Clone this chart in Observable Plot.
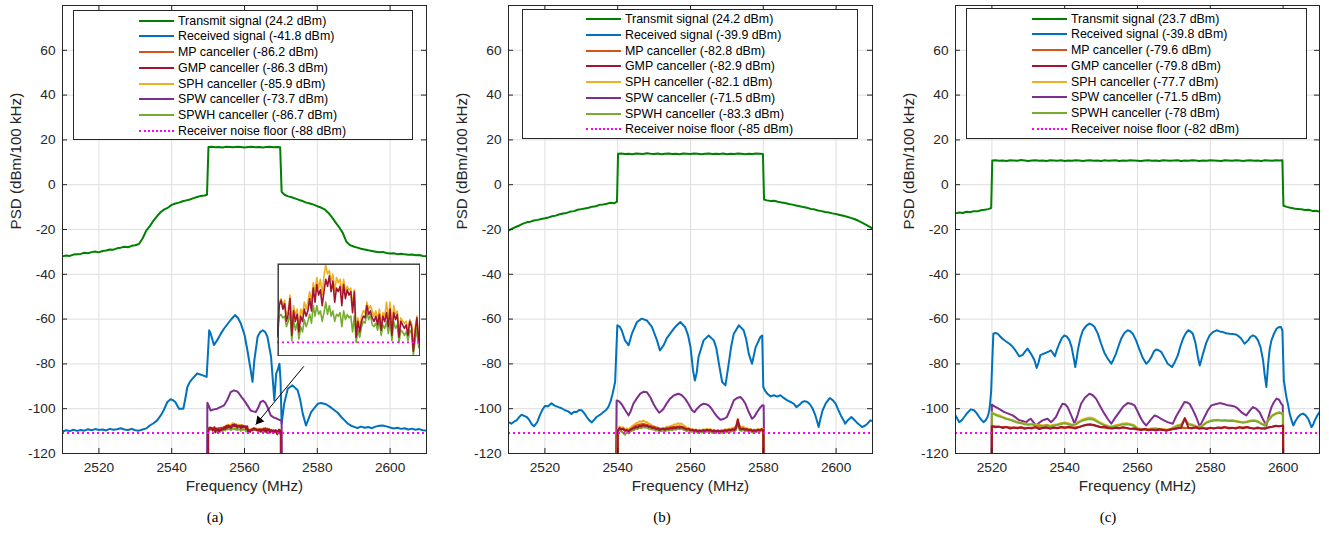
<!DOCTYPE html>
<html><head><meta charset="utf-8">
<script src="https://cdn.jsdelivr.net/npm/d3@7"></script>
<script src="https://cdn.jsdelivr.net/npm/@observablehq/plot@0.6"></script>
<style>
body{margin:0;background:#fff;}
#fig{position:relative;width:1329px;height:533px;overflow:hidden;font-family:"Liberation Sans",Arial,sans-serif;}
.legend{position:absolute;background:#fff;border:1px solid #262626;box-sizing:border-box;}
.sw{position:absolute;height:0;}
.lt{position:absolute;height:16px;line-height:16px;font-size:12.4px;color:#000;white-space:nowrap;}
.cap{position:absolute;width:60px;text-align:center;font-family:"Liberation Serif","Times New Roman",serif;font-size:15px;color:#000;}
</style></head><body><div id="fig"></div>
<script>
// ---------- axes / labels ----------
const xTicks = [2520, 2540, 2560, 2580, 2600];
const yTicks = [-120, -100, -80, -60, -40, -20, 0, 20, 40, 60];
const xDomain = [2510, 2610];
const yDomain = [-120, 80];
const seriesNames = ["Transmit signal", "Received signal", "MP canceller", "GMP canceller", "SPH canceller", "SPW canceller", "SPWH canceller", "Receiver noise floor"];
const powerA = [24.2, -41.8, -86.2, -86.3, -85.9, -73.7, -86.7, -88];
const powerB = [24.2, -39.9, -82.8, -82.9, -82.1, -71.5, -83.3, -85];
const powerC = [23.7, -39.8, -79.6, -79.8, -77.7, -71.5, -78, -82];
const noiseFloor = -110.8;
const captions = ["(a)", "(b)", "(c)"];
const xLabel = "Frequency (MHz)";
const yLabel = "PSD (dBm/100 kHz)";

// ---------- panel (a) ----------
const txA_left = [-32.0,-31.6,-31.8,-31.2,-31.0,-30.9,-30.4,-30.6,-30.1,-29.8,-30.2,-29.6,-29.4,-28.9,-29.0,-28.4,-28.1,-27.7,-27.9,-27.3,-27.0,-26.5,-24.0,-20.5,-18.5,-16.0,-14.0,-12.2,-11.0,-10.2,-9.0,-8.4,-8.0,-7.4,-7.0,-6.6,-6.0,-5.5,-5.0,-4.8];
const txA_top = [16.9,16.7,16.8,16.6,16.9,16.8,16.7,16.9,16.8,16.6,16.8,16.9,16.7,16.8,16.6,16.8,16.9,16.7,16.8];
const txA_right = [-4.5,-5.2,-5.6,-6.2,-6.8,-7.3,-8.0,-8.4,-8.9,-9.6,-10.2,-11.0,-12.5,-14.5,-16.8,-19.0,-21.5,-25.5,-27.0,-27.6,-28.1,-28.6,-28.9,-29.3,-29.6,-29.9,-30.2,-30.0,-30.5,-30.7,-30.6,-31.0,-30.8,-31.1,-31.3,-31.2,-31.5,-31.4,-31.8,-32.0];
const rxA = [[2510,-110.2],[2511,-109.6],[2512,-110.0],[2513,-109.4],[2514,-109.9],[2515,-109.5],[2516,-109.8],[2517,-109.2],[2518,-109.6],[2519,-109.1],[2520,-109.5],[2521,-109.3],[2522,-109.7],[2523,-109.0],[2524,-109.4],[2525,-109.2],[2526,-108.7],[2527,-109.3],[2528,-109.5],[2529,-109.0],[2530,-109.6],[2531,-109.8],[2532,-109.3],[2533,-108.8],[2534,-107.5],[2535,-106.5],[2536,-105.2],[2537,-103.0],[2537.8,-100.7],[2538.8,-97.0],[2539.7,-95.8],[2540.3,-96.2],[2541,-97.0],[2542,-100.0],[2543.2,-100.0],[2543.8,-95.0],[2544.3,-90.3],[2545,-88.0],[2545.7,-86.6],[2547,-84.3],[2548.4,-85.0],[2549.6,-85.8],[2550,-74.0],[2550.3,-65.0],[2550.7,-66.4],[2551.6,-71.6],[2552.5,-69.4],[2553.5,-66.5],[2554.4,-64.2],[2555.3,-62.3],[2556.2,-60.4],[2557.4,-58.2],[2558.2,-59.5],[2559,-62.0],[2560,-67.0],[2560.8,-73.9],[2561.7,-82.8],[2562.2,-88.0],[2562.7,-78.4],[2563.6,-67.9],[2564.3,-65.8],[2565,-65.0],[2565.7,-65.8],[2566.3,-67.9],[2567.3,-76.9],[2568.2,-96.3],[2568.7,-84.3],[2569.1,-82.8],[2569.6,-79.9],[2569.9,-87.3],[2570.2,-106.7],[2570.9,-97.8],[2571.9,-91.0],[2573.2,-89.6],[2574.6,-91.8],[2575.3,-96.0],[2576,-102.2],[2576.9,-107.5],[2578.3,-101.5],[2580.1,-97.8],[2581,-97.5],[2582.4,-98.0],[2583.5,-99.2],[2584.7,-100.7],[2585.6,-101.8],[2586.6,-103.7],[2587.5,-105.2],[2588.4,-106.7],[2589.3,-107.6],[2590.3,-108.2],[2591,-108.6],[2592,-108.0],[2593,-108.5],[2594,-108.2],[2595,-108.7],[2596,-108.0],[2597,-107.6],[2598,-107.5],[2599,-107.9],[2600,-108.4],[2601,-108.8],[2602,-108.5],[2603,-109.0],[2604,-108.7],[2605,-109.3],[2606,-108.9],[2607,-109.4],[2608,-109.1],[2609,-109.6],[2610,-109.7]];
const spwA = [[2549.7,-130],[2549.8,-97.3],[2550.7,-100.8],[2551.6,-100.3],[2552.5,-100.0],[2553.5,-99.2],[2554.4,-98.5],[2555.3,-96.0],[2556.2,-92.6],[2557.1,-91.8],[2558,-92.3],[2558.5,-93.2],[2559.2,-94.8],[2559.9,-96.3],[2560.8,-98.5],[2561.7,-100.8],[2562.4,-101.2],[2563.1,-101.5],[2563.8,-99.5],[2564.4,-97.0],[2565.1,-96.5],[2565.8,-97.5],[2566.5,-100.0],[2567.2,-103.0],[2568.1,-104.0],[2569,-104.5],[2569.9,-105.2],[2570.2,-105.0],[2570.3,-130]];
// cancellers (a): 2550..2570 MHz every 0.25 MHz
const gmpA = [-110.4,-108.7,-108.4,-108.9,-108.6,-109.6,-109.2,-108.3,-110.4,-109.0,-109.6,-109.2,-110.2,-109.3,-109.6,-108.9,-109.3,-109.0,-108.3,-109.0,-107.7,-108.5,-107.5,-108.1,-107.8,-108.7,-107.9,-107.2,-107.6,-107.0,-107.9,-107.3,-108.5,-107.7,-107.9,-107.6,-108.7,-107.5,-108.3,-107.8,-108.1,-107.9,-109.1,-107.9,-110.5,-109.6,-110.2,-109.6,-109.3,-109.4,-108.7,-109.2,-109.0,-109.4,-109.6,-109.3,-109.8,-109.2,-110.1,-109.3,-109.6,-109.1,-109.9,-108.9,-110.4,-109.1,-109.5,-109.2,-110.5,-109.6,-109.8,-110.0,-109.8,-110.4,-109.6,-109.9,-111.3,-110.2,-109.4,-110.8,-109.7];
const sphA = [-110.1,-108.5,-108.3,-108.7,-108.4,-109.3,-109.0,-108.1,-110.1,-108.7,-109.3,-108.9,-109.9,-108.9,-109.2,-108.5,-108.9,-108.5,-107.9,-108.5,-107.4,-107.9,-107.1,-107.7,-107.2,-108.1,-107.0,-106.4,-106.9,-106.7,-107.3,-106.9,-107.9,-107.1,-107.4,-107.2,-108.0,-107.2,-107.9,-107.6,-107.8,-107.7,-108.7,-107.8,-110.3,-109.4,-110.0,-109.3,-109.0,-109.1,-108.5,-108.9,-108.7,-109.0,-109.3,-109.0,-109.5,-108.9,-109.8,-109.1,-109.3,-108.5,-109.5,-108.5,-110.0,-108.7,-109.2,-109.0,-110.3,-109.4,-109.6,-109.7,-109.6,-110.1,-109.5,-109.7,-111.1,-110.0,-109.3,-110.6,-109.6];
const spwhA = [-110.5,-109.3,-109.2,-109.4,-109.3,-109.9,-109.6,-109.1,-110.7,-109.5,-110.1,-109.7,-110.6,-109.9,-110.2,-109.5,-109.9,-109.6,-109.2,-109.7,-108.7,-109.3,-108.7,-109.2,-109.0,-109.6,-109.1,-108.5,-109.2,-108.7,-109.3,-109.0,-109.6,-109.2,-109.3,-109.1,-109.9,-109.0,-109.5,-109.2,-109.4,-109.3,-110.2,-109.3,-110.8,-110.1,-110.5,-109.9,-109.6,-109.7,-109.1,-109.5,-109.2,-109.8,-109.9,-109.7,-110.1,-109.6,-110.4,-109.8,-110.0,-109.6,-110.3,-109.6,-110.7,-109.6,-110.0,-109.8,-110.8,-110.1,-110.2,-110.4,-110.2,-110.7,-110.1,-110.3,-111.5,-110.7,-110.0,-111.1,-110.2];
const mpA = [-109.2,-108.8,-109.2,-108.6,-108.4,-108.0,-107.9,-107.6,-107.9,-108.2,-108.3,-109.3,-109.4,-109.2,-109.5,-109.3,-109.6,-109.5,-109.8,-109.9,-109.7];
const arrowA = [{x1: 2576.3, y1: -81.1, x2: 2563.1, y2: -107.1}];
const insetX = [2550, 2570];
const insetY = [-111.6, -106.3];

// ---------- panel (b) ----------
const txB_left = [-20.5,-19.6,-18.9,-18.2,-17.4,-16.8,-16.5,-16.0,-15.7,-15.3,-15.0,-14.6,-14.1,-13.8,-13.2,-12.9,-12.6,-12.0,-11.8,-11.2,-10.9,-10.6,-10.3,-9.8,-9.6,-9.0,-8.8,-8.5,-8.1,-8.3];
const txB_top = [13.9,13.7,13.8,13.6,13.9,13.8,13.7,14.0,13.8,13.7,13.9,13.6,13.8,13.9,13.7,13.8,13.6,13.9,13.8,13.7,13.9,13.8,13.6,13.8,13.9,13.7,13.8,13.7,13.9,13.6,13.8,13.7,13.9,13.8,13.6,13.8,13.7,13.9,13.8];
const txB_right = [-7.0,-7.3,-7.2,-7.6,-7.9,-8.2,-8.6,-8.9,-9.3,-9.6,-10.0,-10.3,-10.8,-11.0,-11.5,-11.8,-12.2,-12.4,-12.8,-13.1,-13.5,-13.9,-14.3,-14.8,-15.3,-16.0,-16.8,-17.7,-18.6,-19.6];
const rxB = [[2510,-106.0],[2510.8,-106.7],[2511.5,-105.8],[2512.2,-105.2],[2513,-103.6],[2513.6,-102.7],[2514.3,-103.2],[2515,-103.7],[2515.7,-105.0],[2516.3,-106.7],[2517,-107.9],[2517.9,-106.0],[2518.6,-103.0],[2519.3,-100.5],[2520,-98.8],[2520.9,-98.9],[2521.8,-97.6],[2522.7,-98.6],[2523.7,-99.3],[2524.6,-99.8],[2525.5,-100.7],[2526.4,-101.2],[2527.3,-102.4],[2528,-101.4],[2528.7,-101.5],[2529.4,-100.6],[2530.1,-100.7],[2530.8,-102.0],[2531.5,-103.7],[2532.2,-105.2],[2532.9,-106.1],[2533.5,-105.0],[2534.2,-103.7],[2535.1,-102.8],[2536.1,-101.5],[2536.8,-100.6],[2537.4,-99.3],[2538,-97.0],[2538.6,-93.3],[2539.3,-88.0],[2539.6,-75.0],[2539.9,-62.8],[2540.6,-63.5],[2541.1,-65.0],[2542,-69.5],[2543,-71.7],[2543.9,-66.5],[2545.3,-61.3],[2546.6,-59.8],[2548,-60.6],[2549.4,-63.5],[2550.8,-69.5],[2551.6,-74.0],[2552.6,-71.7],[2553.5,-68.5],[2554.4,-66.5],[2555.8,-63.5],[2557.2,-61.3],[2558.5,-63.5],[2559.3,-67.0],[2560,-72.5],[2560.7,-82.9],[2561.2,-87.4],[2561.7,-84.0],[2562.2,-76.9],[2563.6,-69.5],[2565,-67.3],[2566.4,-69.5],[2567.1,-73.0],[2567.8,-79.9],[2568.7,-88.1],[2569.6,-89.6],[2570.5,-79.9],[2571.2,-72.0],[2571.9,-66.5],[2573.3,-62.8],[2574.6,-65.0],[2575.3,-69.0],[2576,-75.4],[2576.9,-79.9],[2577.9,-72.5],[2579.2,-68.0],[2579.7,-67.3],[2580,-90.3],[2580.5,-92.0],[2581.1,-93.3],[2582,-94.5],[2582.9,-94.0],[2583.8,-94.6],[2584.7,-94.0],[2585.6,-95.2],[2586.6,-96.3],[2587.5,-97.0],[2588.4,-97.8],[2589.1,-99.3],[2590,-98.2],[2590.7,-97.0],[2591.4,-96.6],[2592.1,-97.0],[2592.8,-98.0],[2593.5,-99.8],[2594.2,-102.5],[2594.8,-105.7],[2595.2,-108.2],[2595.7,-104.5],[2596.3,-100.7],[2597.2,-97.5],[2598.3,-95.2],[2599.2,-96.4],[2599.9,-97.8],[2600.6,-100.5],[2601.3,-103.0],[2602,-105.0],[2602.5,-106.7],[2603.3,-105.0],[2604.2,-103.7],[2604.9,-104.8],[2605.6,-106.0],[2606.3,-107.0],[2607.1,-108.2],[2607.9,-107.6],[2608.6,-106.7],[2609.4,-105.2],[2610,-105.6]];
const spwB = [[2539.5,-130],[2539.7,-96.3],[2540.3,-96.6],[2541.1,-98.0],[2542,-100.5],[2543,-103.0],[2543.6,-101.0],[2544.3,-97.8],[2545.2,-95.5],[2546.2,-93.3],[2547.2,-92.4],[2548,-92.6],[2549,-95.0],[2549.8,-97.8],[2550.6,-100.0],[2551.4,-101.8],[2552,-101.0],[2552.6,-100.0],[2553.5,-97.5],[2554.4,-95.5],[2555.5,-94.0],[2556.7,-93.3],[2557.6,-94.0],[2558.5,-95.5],[2559.5,-98.0],[2560.4,-100.7],[2561.1,-101.5],[2561.8,-100.0],[2562.7,-98.5],[2563.6,-97.8],[2564.3,-98.0],[2565,-98.5],[2565.7,-99.8],[2566.4,-101.5],[2567.3,-103.5],[2568.2,-104.9],[2569.1,-104.6],[2570,-103.7],[2571,-100.0],[2571.9,-96.3],[2572.8,-95.2],[2573.7,-94.8],[2574.4,-96.0],[2575.1,-97.8],[2576,-101.5],[2576.9,-104.5],[2577.6,-103.5],[2578.3,-101.5],[2579,-99.8],[2579.7,-98.5],[2580.1,-98.6],[2580.3,-130]];
// cancellers (b): 2540..2580 MHz every 0.5 MHz
const gmpB = [-109.8,-108.6,-109.3,-108.9,-109.9,-109.5,-110.1,-109.4,-109.0,-108.7,-108.1,-108.4,-107.6,-107.9,-107.3,-107.7,-107.5,-108.2,-108.0,-108.6,-108.4,-109.1,-108.8,-109.5,-109.2,-109.0,-109.4,-108.8,-109.1,-108.6,-108.9,-108.4,-108.7,-108.2,-108.5,-108.1,-108.6,-108.9,-109.3,-109.0,-109.6,-109.4,-109.9,-109.5,-110.1,-109.7,-110.0,-109.6,-109.9,-109.4,-109.8,-109.5,-110.1,-109.7,-110.2,-109.8,-110.3,-109.9,-110.1,-109.6,-109.9,-109.4,-109.7,-109.2,-109.5,-108.6,-104.8,-108.9,-109.2,-108.8,-109.4,-109.1,-109.7,-109.3,-110.0,-109.6,-109.9,-109.4,-109.7,-109.2,-109.5];
const sphB = [-109.2,-108.0,-108.6,-108.3,-109.2,-108.8,-109.4,-108.5,-107.8,-107.2,-106.6,-106.2,-105.6,-105.9,-105.3,-105.8,-105.9,-106.7,-106.9,-107.6,-107.8,-108.5,-108.4,-109.0,-108.8,-108.5,-108.7,-108.0,-108.2,-107.6,-107.7,-107.0,-107.1,-106.5,-106.8,-106.6,-107.3,-107.9,-108.5,-108.5,-109.2,-109.0,-109.6,-109.2,-109.8,-109.4,-109.7,-109.2,-109.5,-109.0,-109.4,-109.1,-109.7,-109.4,-109.9,-109.5,-109.9,-109.5,-109.7,-109.2,-109.5,-108.9,-109.1,-108.5,-108.6,-107.8,-104.6,-108.0,-108.3,-108.0,-108.7,-108.6,-109.2,-109.0,-109.7,-109.3,-109.6,-109.0,-109.3,-108.9,-109.1];
const spwhB = [-110.4,-109.4,-110.2,-110.8,-111.6,-110.6,-111.0,-110.2,-109.7,-109.5,-108.9,-109.1,-108.4,-108.7,-108.1,-108.5,-108.3,-108.9,-108.8,-109.3,-109.2,-109.8,-109.6,-110.2,-110.0,-109.8,-110.1,-109.5,-109.8,-109.3,-109.6,-109.1,-109.4,-108.9,-109.2,-108.8,-109.3,-109.6,-110.0,-109.7,-110.3,-110.1,-110.6,-110.2,-110.8,-110.4,-110.7,-110.3,-110.6,-110.1,-110.5,-110.2,-110.8,-110.4,-110.9,-110.5,-111.0,-110.6,-110.8,-110.3,-110.6,-110.1,-110.4,-109.9,-110.2,-109.5,-106.0,-109.6,-109.9,-109.5,-110.1,-109.8,-110.4,-110.0,-110.7,-110.3,-110.6,-110.1,-110.4,-109.9,-110.2];
// MP (b): 2540..2580 every 1 MHz
const mpB = [-109.5,-109.0,-109.6,-109.8,-108.6,-107.6,-107.0,-106.8,-107.2,-107.8,-108.2,-108.6,-109.0,-108.9,-108.6,-108.2,-108.0,-107.8,-108.3,-109.0,-109.4,-109.6,-109.9,-109.8,-109.6,-109.5,-109.9,-110.0,-110.1,-109.8,-109.6,-109.4,-109.2,-106.5,-109.0,-109.2,-109.5,-109.8,-109.7,-109.5,-109.3];

// ---------- panel (c) ----------
const txC_left = [-12.8,-12.4,-12.6,-12.1,-12.3,-11.8,-11.9,-11.4,-11.2,-10.9];
const txC_top = [10.9,10.7,10.8,10.6,10.9,10.8,10.7,11.0,10.8,10.6,10.8,10.9,10.7,10.8,10.6,10.9,10.8,10.7,10.9,10.6,10.8,10.7,10.9,10.8,10.6,10.8,10.9,10.7,10.8,10.6,10.9,10.7,10.8,10.9,10.6,10.8,10.7,10.9,10.8,10.7,10.6,10.8,10.9,10.7,10.8,10.6,10.9,10.8,10.7,10.8,10.9,10.6,10.8,10.7,10.9,10.8,10.6,10.8,10.7,10.9,10.8,10.7,10.6,10.9,10.8,10.7,10.9,10.8,10.6,10.8,10.9,10.7,10.8,10.6,10.9,10.8,10.7,10.9,10.8];
const txC_right = [-9.9,-10.3,-10.6,-10.8,-11.0,-11.3,-11.2,-11.7,-11.6,-12.0];
const rxC = [[2510,-103.0],[2510.5,-104.5],[2511,-106.0],[2511.7,-105.2],[2512.4,-103.7],[2513.3,-101.8],[2514.2,-100.3],[2515.1,-100.7],[2515.8,-102.0],[2516.5,-103.7],[2517.1,-105.0],[2517.7,-106.0],[2518.3,-105.2],[2518.8,-103.7],[2519.2,-101.5],[2519.5,-97.8],[2519.8,-92.0],[2520,-82.9],[2520.4,-66.5],[2521,-66.2],[2521.6,-66.5],[2522.3,-67.8],[2522.9,-68.8],[2523.9,-70.0],[2524.8,-71.0],[2525.5,-72.0],[2526.1,-73.2],[2526.8,-74.8],[2527.5,-76.6],[2528.4,-76.1],[2529.1,-74.5],[2529.8,-73.2],[2530.7,-75.4],[2531.2,-76.8],[2531.7,-78.4],[2532.3,-81.8],[2532.8,-79.5],[2533.3,-76.1],[2534.1,-75.5],[2534.9,-75.0],[2535.6,-74.5],[2536.2,-73.9],[2536.8,-75.3],[2537.3,-76.6],[2537.9,-73.5],[2538.5,-71.0],[2539.2,-68.5],[2539.9,-67.3],[2540.6,-67.8],[2541.3,-69.5],[2541.9,-72.5],[2542.5,-77.6],[2542.9,-81.4],[2543.3,-77.5],[2543.6,-73.9],[2544.3,-68.5],[2545,-65.0],[2545.9,-63.0],[2546.8,-62.0],[2547.5,-62.5],[2548.2,-63.5],[2549.1,-66.5],[2550,-71.0],[2550.9,-75.0],[2551.8,-77.6],[2552.8,-79.9],[2553.4,-78.0],[2554.1,-75.4],[2554.8,-72.0],[2555.5,-68.8],[2556.4,-66.2],[2557.3,-65.0],[2558,-65.4],[2558.7,-66.5],[2559.6,-69.5],[2560.6,-73.9],[2561.5,-77.5],[2562.4,-79.9],[2563.1,-78.8],[2563.8,-76.9],[2564.5,-74.5],[2565.1,-73.6],[2565.8,-73.9],[2566.5,-74.6],[2567.4,-77.2],[2568.3,-79.9],[2569.5,-81.4],[2570.3,-79.0],[2571.1,-76.1],[2571.8,-72.0],[2572.5,-68.8],[2573.2,-66.5],[2573.9,-65.0],[2574.5,-65.4],[2575.2,-66.5],[2575.9,-70.5],[2576.6,-76.9],[2577.1,-80.7],[2577.5,-78.5],[2578,-75.4],[2578.9,-70.5],[2579.8,-67.3],[2580.7,-65.8],[2581.7,-65.0],[2582.6,-65.5],[2583.5,-65.8],[2584.4,-66.3],[2585.3,-66.5],[2586.2,-66.6],[2587.2,-67.0],[2587.9,-67.8],[2588.5,-68.8],[2589.4,-71.0],[2590.4,-69.5],[2591,-68.0],[2591.7,-67.3],[2592.4,-67.8],[2593.1,-69.5],[2593.8,-72.5],[2594.5,-78.4],[2594.9,-84.3],[2595.4,-90.3],[2595.9,-79.9],[2596.3,-73.5],[2596.8,-69.5],[2597.5,-66.5],[2598.2,-64.3],[2598.8,-63.6],[2599.4,-63.5],[2599.8,-65.0],[2600.2,-87.4],[2600.9,-94.8],[2601.4,-98.5],[2601.8,-102.2],[2602.3,-105.0],[2602.8,-107.5],[2603.4,-105.5],[2604.1,-103.7],[2604.8,-102.6],[2605.5,-102.2],[2606.2,-103.0],[2606.9,-104.5],[2607.4,-106.5],[2607.8,-108.2],[2608.3,-107.0],[2608.7,-105.2],[2609.4,-103.0],[2610,-101.5]];
const spwC = [[2519.8,-130],[2520,-98.2],[2520.5,-98.8],[2521.1,-99.3],[2522.2,-100.3],[2523.4,-101.5],[2524.5,-102.2],[2525.7,-103.0],[2526.6,-104.0],[2527.5,-105.2],[2528.4,-105.5],[2529.4,-106.0],[2530.1,-105.0],[2530.7,-104.5],[2531.4,-106.0],[2532.1,-107.5],[2533,-106.3],[2533.9,-105.2],[2534.6,-104.8],[2535.3,-104.5],[2536.2,-106.0],[2536.9,-105.0],[2537.6,-103.7],[2538.5,-100.5],[2539.4,-97.8],[2540.1,-98.0],[2540.8,-99.3],[2541.8,-103.0],[2542.7,-106.7],[2543.6,-102.5],[2544.5,-97.8],[2545.6,-95.0],[2546.8,-93.3],[2547.7,-94.0],[2548.6,-95.5],[2549.7,-98.8],[2550.9,-102.2],[2551.8,-104.5],[2552.8,-106.7],[2553.9,-104.0],[2555,-101.5],[2556.1,-99.0],[2557.3,-97.5],[2558.2,-97.8],[2559.2,-98.5],[2560.1,-101.5],[2561,-104.5],[2561.7,-106.3],[2562.4,-107.5],[2563.5,-105.2],[2564.7,-103.0],[2565.6,-103.6],[2566.5,-104.5],[2567.4,-105.3],[2568.3,-106.0],[2569,-106.4],[2569.7,-106.7],[2570.6,-103.5],[2571.6,-100.7],[2572.9,-97.0],[2573.6,-97.2],[2574.3,-97.8],[2575.2,-100.5],[2576.1,-103.7],[2577.1,-107.9],[2577.7,-106.0],[2578.4,-103.7],[2579.3,-100.8],[2580.3,-98.5],[2581.4,-98.0],[2582.6,-97.5],[2583.7,-97.9],[2584.9,-98.5],[2585.8,-98.7],[2586.7,-99.0],[2587.6,-100.0],[2588.5,-101.5],[2589.2,-102.3],[2589.9,-103.0],[2590.8,-101.0],[2591.7,-99.3],[2592.6,-100.0],[2593.5,-101.5],[2594.4,-104.5],[2595.4,-107.5],[2596.1,-103.0],[2596.8,-99.3],[2597.5,-97.0],[2598.2,-95.5],[2598.9,-96.0],[2599.5,-97.8],[2599.9,-98.5],[2600.1,-130]];
// cancellers (c): 2520..2600 MHz every 1 MHz
const gmpC = [-107.8,-108.3,-108.0,-108.6,-108.2,-108.9,-108.4,-108.7,-108.3,-109.0,-108.5,-108.8,-108.2,-109.1,-108.6,-108.3,-108.9,-108.4,-108.7,-108.1,-108.5,-108.0,-108.4,-108.8,-108.2,-107.6,-107.2,-106.9,-107.3,-107.8,-108.3,-108.0,-108.6,-108.9,-108.5,-108.8,-108.3,-108.6,-109.0,-108.7,-109.2,-109.5,-109.0,-109.6,-109.3,-109.7,-109.2,-109.5,-109.8,-109.3,-109.0,-108.7,-108.4,-104.2,-108.5,-108.8,-108.3,-109.0,-108.6,-109.1,-108.5,-108.9,-108.4,-108.7,-108.2,-108.8,-108.5,-108.9,-108.3,-108.7,-108.2,-108.6,-108.9,-108.4,-108.8,-109.0,-108.3,-108.0,-107.6,-107.9,-107.5];
const sphC = [-101.6,-102.5,-103.0,-103.7,-104.3,-104.8,-105.3,-105.9,-106.3,-106.6,-107.0,-106.7,-107.3,-107.2,-107.5,-107.1,-107.6,-107.2,-106.9,-106.4,-106.1,-106.5,-107.0,-106.7,-105.6,-104.8,-104.2,-103.9,-104.4,-105.4,-106.4,-107.1,-107.7,-107.9,-107.4,-107.0,-106.6,-106.5,-106.8,-107.3,-108.6,-108.9,-109.1,-109.0,-108.8,-108.7,-108.9,-109.1,-109.3,-109.0,-108.1,-107.4,-106.9,-104.3,-106.6,-107.0,-107.7,-108.1,-107.2,-105.9,-105.3,-105.0,-104.9,-105.1,-105.0,-105.2,-105.1,-105.4,-105.7,-106.0,-105.7,-105.3,-105.1,-105.5,-106.5,-107.3,-104.9,-102.9,-102.0,-101.5,-102.2];
const spwhC = [-102.0,-102.8,-103.4,-104.0,-104.6,-105.0,-105.6,-106.2,-106.5,-106.9,-107.2,-107.0,-107.6,-107.5,-107.8,-107.4,-107.9,-107.6,-107.3,-106.8,-106.5,-106.9,-107.4,-107.1,-106.0,-105.3,-104.8,-104.6,-105.0,-105.9,-106.8,-107.5,-108.0,-108.2,-107.8,-107.4,-107.0,-106.9,-107.2,-107.6,-108.9,-109.2,-109.4,-109.3,-109.1,-109.0,-109.2,-109.4,-109.6,-109.3,-108.5,-107.8,-107.3,-104.8,-107.0,-107.4,-108.0,-108.4,-107.5,-106.2,-105.6,-105.3,-105.2,-105.4,-105.3,-105.5,-105.4,-105.7,-106.0,-106.3,-106.0,-105.6,-105.4,-105.8,-106.8,-107.6,-105.2,-103.2,-102.3,-101.8,-102.5];
// MP (c): 2520..2600 every 2 MHz
const mpC = [-107.7,-108.1,-108.2,-108.5,-108.4,-108.6,-108.3,-108.6,-108.7,-108.5,-108.4,-108.5,-108.1,-107.2,-107.4,-108.3,-108.7,-108.6,-108.4,-108.9,-109.3,-109.2,-109.4,-109.3,-109.6,-109.1,-108.5,-108.6,-108.4,-108.7,-108.6,-108.5,-108.3,-108.6,-108.4,-108.3,-108.8,-108.7,-108.4,-107.8,-107.6];

// ---------- helpers ----------
const C = {tx: "#008000", rx: "#0072BD", mp: "#D95319", gmp: "#A2142F", sph: "#EDB120", spw: "#7E2F8E", spwh: "#77AC30", floor: "#FF00FF"};
const legendColors = [C.tx, C.rx, C.mp, C.gmp, C.sph, C.spw, C.spwh, C.floor];
function grid(f0, step, vals) { return vals.map((v, i) => [+(f0 + i * step).toFixed(3), v]); }
function band(f0, step, vals) { const g = grid(f0, step, vals); return [[g[0][0], -130], ...g, [g[g.length - 1][0], -130]]; }

const panels = [
  {
    svgLeft: 0, ml: 62,
    tx: [...grid(2510, 1, txA_left), [2549.7, -4.5], [2550.1, 16.8], ...grid(2551, 1, txA_top), [2569.8, 16.7], [2570.2, -3.2], ...grid(2571, 1, txA_right)],
    rx: rxA, spw: spwA,
    sph: band(2550, 0.25, sphA), spwh: band(2550, 0.25, spwhA), mp: band(2550, 1, mpA), gmp: band(2550, 0.25, gmpA),
    arrow: arrowA, powers: powerA,
    legend: {left: 73, top: 10, width: 340, height: 130, lineLeft: 65, textLeft: 104}, capX: 215
  },
  {
    svgLeft: 446.3, ml: 62,
    tx: [...grid(2510, 1, txB_left), [2539.8, -7.6], [2540.1, 13.8], ...grid(2541, 1, txB_top), [2579.9, 13.7], [2580.2, -6.6], ...grid(2581, 1, txB_right)],
    rx: rxB, spw: spwB,
    sph: band(2540, 0.5, sphB), spwh: band(2540, 0.5, spwhB), mp: band(2540, 1, mpB), gmp: band(2540, 0.5, gmpB),
    arrow: null, powers: powerB,
    legend: {left: 522.3, top: 8.7, width: 336, height: 130, lineLeft: 62.4, textLeft: 101.7}, capX: 662
  },
  {
    svgLeft: 892.7, ml: 62,
    tx: [...grid(2510, 1, txC_left), [2519.8, -10.4], [2520.1, 10.8], ...grid(2521, 1, txC_top), [2599.8, 10.9], [2600.1, -9.4], ...grid(2601, 1, txC_right)],
    rx: rxC, spw: spwC,
    sph: band(2520, 1, sphC), spwh: band(2520, 1, spwhC), mp: band(2520, 2, mpC), gmp: band(2520, 1, gmpC),
    arrow: null, powers: powerC,
    legend: {left: 966, top: 8, width: 341.3, height: 131, lineLeft: 64.7, textLeft: 104}, capX: 1108
  }
];

const fig = document.getElementById("fig");
const W = 364, H = 448;
const axisColor = "#262626";

function drawPanel(p) {
  const line = (data, color) => Plot.line(data, {x: d => d[0], y: d => d[1], stroke: color, strokeWidth: 2, clip: true});
  const marks = [
    Plot.gridX(xTicks, {stroke: "#dedede", strokeOpacity: 1, strokeWidth: 1}),
    Plot.gridY(yTicks, {stroke: "#dedede", strokeOpacity: 1, strokeWidth: 1}),
    line(p.tx, C.tx),
    line(p.rx, C.rx),
    line(p.spw, C.spw),
    line(p.sph, C.sph),
    line(p.spwh, C.spwh),
    line(p.mp, C.mp),
    line(p.gmp, C.gmp),
    Plot.ruleY([noiseFloor], {stroke: C.floor, strokeWidth: 2, strokeDasharray: "2,3"})
  ];
  if (p.arrow) {
    marks.push(Plot.link(p.arrow, {x1: "x1", y1: "y1", x2: "x2", y2: "y2", stroke: "#000", strokeWidth: 1}));
    // filled arrow head at the tip, pointing along the shaft
    marks.push(Plot.dot(p.arrow, {x: "x2", y: "y2", symbol: "triangle", r: 3.4, fill: "#000", stroke: "none", rotate: 219.6, dx: 3.4, dy: -4.1}));
  }
  marks.push(
    Plot.frame({stroke: axisColor, strokeWidth: 1}),
    Plot.tickY(yTicks, {y: d => d, insetRight: W - 5, stroke: axisColor}),
    Plot.tickY(yTicks, {y: d => d, insetLeft: W - 5, stroke: axisColor}),
    Plot.tickX(xTicks, {x: d => d, insetTop: H - 5, stroke: axisColor}),
    Plot.tickX(xTicks, {x: d => d, insetBottom: H - 5, stroke: axisColor}),
    Plot.axisX(xTicks, {tickSize: 0, tickPadding: 9, fontSize: 13.7, label: null, tickFormat: d => String(d)}),
    Plot.axisY(yTicks, {tickSize: 0, tickPadding: 7, fontSize: 13.7, label: null, tickFormat: d => String(d)}),
    Plot.text([xLabel], {frameAnchor: "bottom", dy: 37, fontSize: 15.2, fill: axisColor}),
    Plot.text([yLabel], {frameAnchor: "left", dx: -46, rotate: -90, fontSize: 15.2, fill: axisColor})
  );
  const svg = Plot.plot({
    width: p.ml + W + 10, height: 5 + H + 80,
    marginLeft: p.ml, marginRight: 10, marginTop: 5, marginBottom: 80,
    x: {domain: xDomain}, y: {domain: yDomain},
    style: {fontFamily: '"Liberation Sans", Arial, sans-serif', fontSize: "13.7px", color: axisColor, background: "transparent", overflow: "visible"},
    marks
  });
  svg.style.position = "absolute";
  svg.style.left = (p.svgLeft) + "px";
  svg.style.top = "0px";
  fig.appendChild(svg);
}

function drawLegend(p) {
  const b = p.legend;
  const d = document.createElement("div");
  d.className = "legend";
  Object.assign(d.style, {left: b.left + "px", top: b.top + "px", width: b.width + "px", height: b.height + "px"});
  seriesNames.forEach((name, i) => {
    const cy = 9.7 + i * 15.7;
    const sw = document.createElement("div");
    sw.className = "sw";
    Object.assign(sw.style, {left: b.lineLeft + "px", top: (cy - 1) + "px", width: "35px", borderTop: `2px ${i === 7 ? "dotted" : "solid"} ${legendColors[i]}`});
    const t = document.createElement("div");
    t.className = "lt";
    t.textContent = `${name} (${p.powers[i]} dBm)`;
    Object.assign(t.style, {left: b.textLeft + "px", top: (cy - 8) + "px"});
    d.append(sw, t);
  });
  fig.appendChild(d);
}

function drawInset() {
  const l = (vals, color) => Plot.line(grid(2550, 0.25, vals), {x: d => d[0], y: d => d[1], stroke: color, strokeWidth: 1.6, clip: true});
  const svg = Plot.plot({
    width: 143, height: 93, margin: 0,
    x: {domain: insetX, axis: null}, y: {domain: insetY, axis: null},
    style: {background: "#fff"},
    marks: [
      l(sphA, C.sph), l(spwhA, C.spwh), l(gmpA, C.gmp),
      Plot.ruleY([noiseFloor], {stroke: C.floor, strokeWidth: 1.8, strokeDasharray: "2,3"}),
      Plot.frame({stroke: "#333", strokeWidth: 1.4, inset: 0.7})
    ]
  });
  svg.style.position = "absolute";
  svg.style.left = "277px";
  svg.style.top = "262.5px";
  fig.appendChild(svg);
}

panels.forEach(drawPanel);
panels.forEach(drawLegend);
drawInset();
panels.forEach((p, i) => {
  const c = document.createElement("div");
  c.className = "cap";
  c.textContent = captions[i];
  Object.assign(c.style, {left: (p.capX - 30) + "px", top: "509px"});
  fig.appendChild(c);
});
</script>
</body></html>
